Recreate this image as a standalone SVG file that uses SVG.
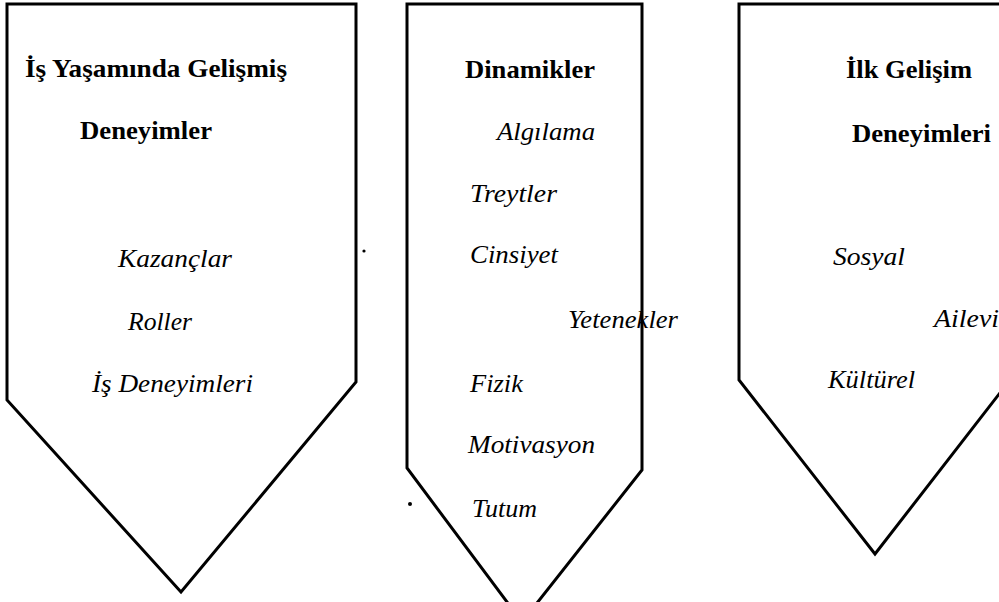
<svg xmlns="http://www.w3.org/2000/svg" width="999" height="602" viewBox="0 0 999 602">
<style>
.shape{fill:#fff;stroke:#000;stroke-width:3;stroke-linejoin:miter}
.t{font-family:"Liberation Serif","Times New Roman",serif;fill:#000}
.b{font-weight:bold;font-size:25px}
.i{font-style:italic;font-size:25px}
</style>
<rect width="999" height="602" fill="#fff"/>
<g id="node-is-yasami">
<polygon class="shape" points="7,4 356,4 356,382 181,592 7,400"/>
<text class="t b" x="25" y="77" textLength="262" lengthAdjust="spacingAndGlyphs">İş Yaşamında Gelişmiş</text>
<text class="t b" x="80" y="139" textLength="132" lengthAdjust="spacingAndGlyphs">Deneyimler</text>
<text class="t i" x="118" y="267" textLength="114" lengthAdjust="spacingAndGlyphs">Kazançlar</text>
<text class="t i" x="128" y="330" textLength="64" lengthAdjust="spacingAndGlyphs">Roller</text>
<text class="t i" x="92" y="392" textLength="161" lengthAdjust="spacingAndGlyphs">İş Deneyimleri</text>
</g>
<g id="node-dinamikler">
<polygon class="shape" points="407,4 642,4 642,470 522,622 407,468"/>
<text class="t b" x="465" y="78" textLength="130" lengthAdjust="spacingAndGlyphs">Dinamikler</text>
<text class="t i" x="497" y="140" textLength="98" lengthAdjust="spacingAndGlyphs">Algılama</text>
<text class="t i" x="470" y="202" textLength="87" lengthAdjust="spacingAndGlyphs">Treytler</text>
<text class="t i" x="470" y="263" textLength="88" lengthAdjust="spacingAndGlyphs">Cinsiyet</text>
<text class="t i" x="568" y="328" textLength="110" lengthAdjust="spacingAndGlyphs">Yetenekler</text>
<text class="t i" x="470" y="392" textLength="53" lengthAdjust="spacingAndGlyphs">Fizik</text>
<text class="t i" x="468" y="453" textLength="127" lengthAdjust="spacingAndGlyphs">Motivasyon</text>
<text class="t i" x="472" y="517" textLength="65" lengthAdjust="spacingAndGlyphs">Tutum</text>
</g>
<g id="node-ilk-gelisim">
<polygon class="shape" points="739,4 1010,4 1010,380 875,554 739,380"/>
<text class="t b" x="846" y="78" textLength="126" lengthAdjust="spacingAndGlyphs">İlk Gelişim</text>
<text class="t b" x="852" y="142" textLength="139" lengthAdjust="spacingAndGlyphs">Deneyimleri</text>
<text class="t i" x="833" y="265" textLength="72" lengthAdjust="spacingAndGlyphs">Sosyal</text>
<text class="t i" x="934" y="327" textLength="65" lengthAdjust="spacingAndGlyphs">Ailevi</text>
<text class="t i" x="828" y="388" textLength="87" lengthAdjust="spacingAndGlyphs">Kültürel</text>
</g>
<g id="specks">
<circle cx="364" cy="251" r="1.6" fill="#000"/>
<circle cx="410" cy="504" r="2" fill="#000"/>
</g>
</svg>
